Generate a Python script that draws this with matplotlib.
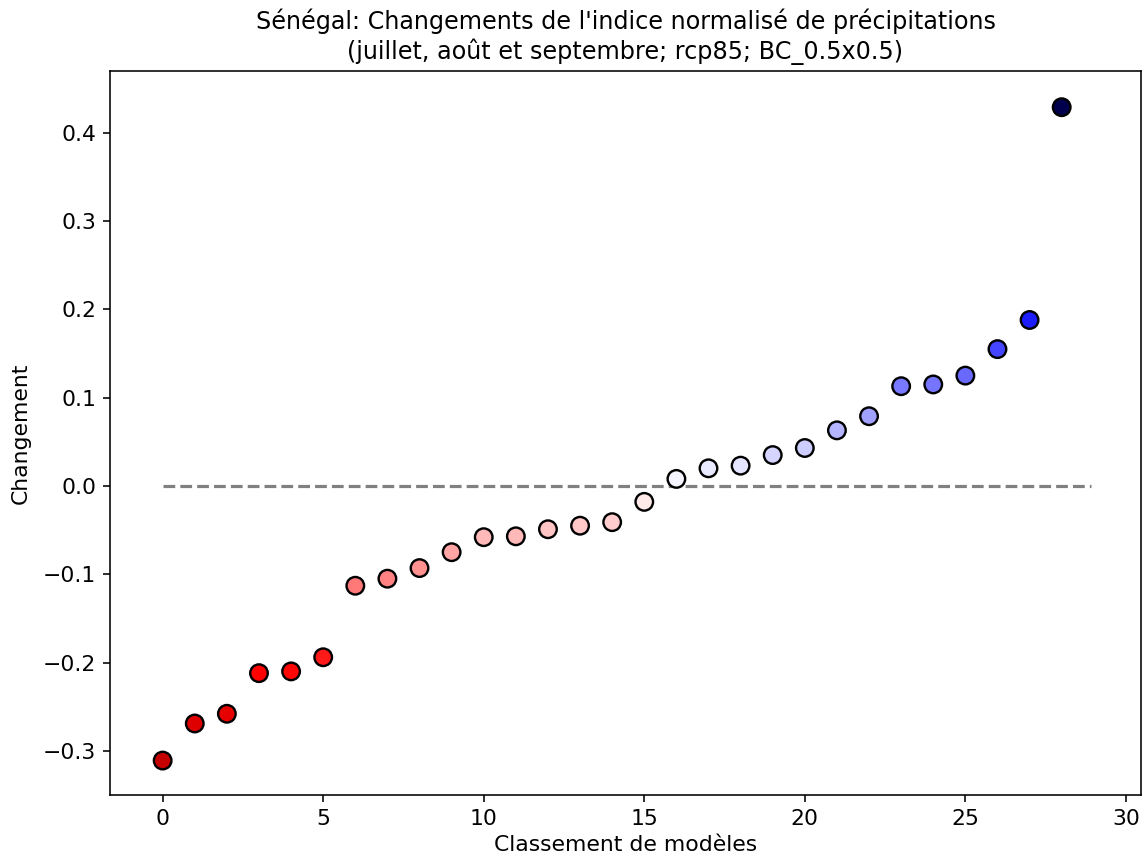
import matplotlib
matplotlib.use('Agg')
import matplotlib.pyplot as plt
from matplotlib.colors import Normalize

# Changement de l'indice normalisé, classé du plus sec au plus humide
rank = list(range(29))
change = [-0.311, -0.269, -0.258, -0.212, -0.210, -0.194,
          -0.113, -0.105, -0.093, -0.075, -0.058, -0.057,
          -0.049, -0.045, -0.041, -0.018, 0.008, 0.020,
          0.023, 0.035, 0.043, 0.063, 0.079, 0.113,
          0.115, 0.125, 0.155, 0.188, 0.429]

title = ("Sénégal: Changements de l'indice normalisé de précipitations\n"
         "(juillet, août et septembre; rcp85; BC_0.5x0.5)")

plt.rcParams['font.size'] = 11

dpi = 143
fig = plt.figure(figsize=(1143 / dpi, 861 / dpi), dpi=dpi)
ax = fig.add_axes([110 / 1143, 1 - 795 / 861, (1141 - 110) / 1143, (795 - 71) / 861])

# couleurs symétriques autour de zéro
vmax = max(abs(v) for v in change)
norm = Normalize(vmin=-vmax, vmax=vmax)

ax.plot([0, 28.9], [0, 0], '--', color='grey', linewidth=1.6, zorder=1)
ax.scatter(rank, change, c=change, cmap='seismic_r', norm=norm,
           s=78, edgecolors='black', linewidths=1.2, zorder=3)

ax.set_xlim(-1.64, 30.47)
ax.set_ylim(-0.350, 0.470)
ax.set_xticks([0, 5, 10, 15, 20, 25, 30])
ax.set_yticks([-0.3, -0.2, -0.1, 0.0, 0.1, 0.2, 0.3, 0.4])
ax.set_xlabel('Classement de modèles', labelpad=3)
ax.set_ylabel('Changement', labelpad=6)
ax.set_title(title, fontsize=12)

fig.savefig('out.png', dpi=dpi)
